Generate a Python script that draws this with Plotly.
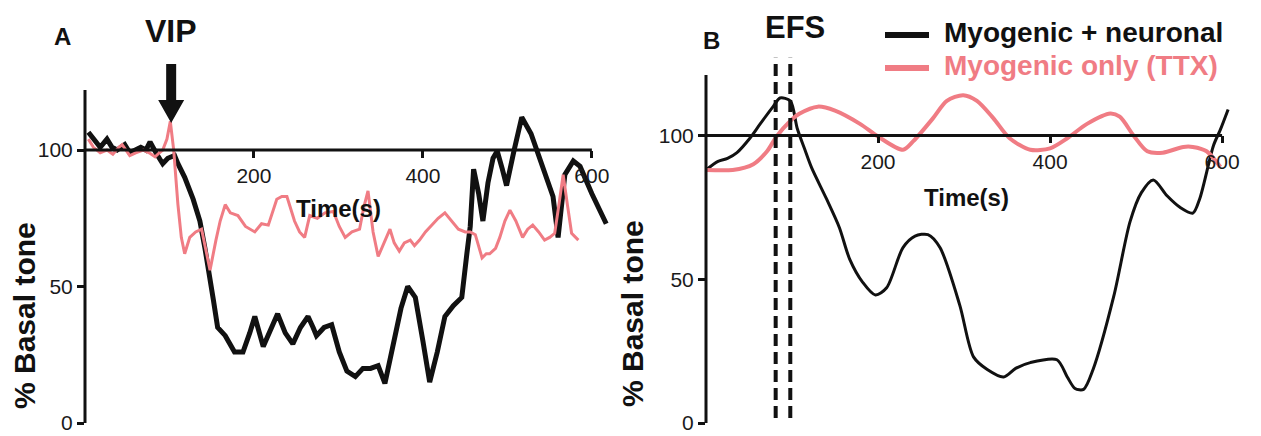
import plotly.graph_objects as go

# ---------------- data ----------------
# Panel A (VIP)
a_neuro_t = [4, 12, 18, 26, 32, 38, 47, 53, 59, 66, 72, 77, 84, 92, 98, 106, 110, 118, 128, 136, 142, 148,
             152, 157, 166, 177, 187, 195, 201, 211, 220, 228, 237, 246, 255, 264, 270, 274, 283, 292, 301,
             310, 320, 329, 338, 347, 355, 365, 374, 382, 391, 400, 408, 417, 426, 436, 446, 452, 456, 460,
             466, 471, 477, 483, 488, 494, 499, 508, 517, 528, 538, 546, 554, 560, 568, 578, 586, 600, 617]
a_neuro_v = [106.5, 103, 101, 104, 101, 100, 102, 99, 100, 101, 100, 103, 99, 95, 97, 98, 95, 90, 82, 74, 64, 54,
             45, 35, 32, 26, 26, 33, 39, 28, 35, 40, 33, 29, 35, 39, 35, 32, 35, 36, 26,
             19, 17, 20, 20, 21, 14.5, 30, 42, 50, 46, 30, 15, 26, 39, 43, 46, 62, 72, 93,
             84, 74, 88, 97, 99.6, 93, 87, 100, 112, 106, 97, 90, 83, 68, 91, 96, 94, 84, 73]

a_myo_t = [4, 10, 18, 26, 33, 40, 44, 49, 53, 60, 69, 76, 83, 88, 92, 97, 101, 105, 110, 114, 118, 124,
           131, 138, 143, 148, 155, 160, 166, 172, 181, 190, 201, 209, 217, 227, 233, 239, 248, 254, 260,
           266, 275, 284, 294, 301, 308, 316, 325, 330, 335, 341, 347, 354, 361, 366, 372, 378, 385, 390,
           396, 403, 410, 418, 426, 434, 442, 450, 456, 462, 470, 475, 479, 486, 491, 497, 503, 510, 518,
           524, 530, 537, 544, 550, 556, 561, 566, 571, 576, 584]
a_myo_v = [104, 101, 99, 100, 98.5, 101, 102, 100, 98, 99, 100, 99, 97.5, 99, 100, 104, 110.5, 100, 80, 68, 62, 68,
           70, 71, 64, 56, 67, 74, 80, 77, 76, 72, 70, 73, 72.5, 82, 83, 83, 74, 70, 68,
           76, 75, 77, 77.5, 72, 68, 70, 71, 79, 85, 70, 61, 66, 71, 66, 63, 66, 67, 65,
           67, 70, 72.5, 75, 77, 74, 71, 70, 70, 69, 60.5, 62, 62, 64, 68, 74, 78, 74, 68,
           71, 72.5, 70, 67, 68, 69.5, 80, 91, 80, 69.5, 67]

# Panel B (EFS)
b_neuro_t = [0, 14, 25, 36, 51, 63, 78, 86, 98, 106, 115, 123, 140, 155, 167, 182, 197, 210, 229, 243, 258,
             272, 295, 311, 327, 346, 360, 377, 408, 420, 429, 439, 450, 474, 493, 506, 520, 536, 551, 566,
             574, 590, 598, 607]
b_neuro_v = [88, 91, 92, 94, 99, 104, 110, 113, 112, 102.5, 95, 88.6, 78, 68, 57, 49, 44.5, 47, 61, 65, 65.5,
             61, 41, 23, 18.6, 16, 19, 21, 22, 16, 12, 11.7, 18.6, 44, 70, 80, 84.5, 79, 75, 73,
             78, 96.5, 102, 109]

b_myo_t = [0, 31, 55, 71, 82, 98, 109, 130, 150, 179, 200, 229, 241, 264, 280, 299, 315, 334, 353, 377,
           400, 420, 443, 470, 481, 497, 513, 531, 555, 566, 582, 598]
b_myo_v = [88, 88, 90, 94.5, 99.6, 105, 107.6, 110, 108.6, 104, 99.6, 95, 98, 106, 112, 114, 112, 106, 99, 95,
           95.5, 99, 104, 107.6, 106.5, 100, 94.5, 94, 96, 96, 94.5, 89]

efs_window = [81, 98]          # stimulation period (s)
vip_time = 102                 # VIP addition (s)
y_ticks = [0, 50, 100]
x_ticks = [200, 400, 600]
series_names = ["Myogenic + neuronal", "Myogenic only (TTX)"]
panel_labels = ["A", "B"]

# ---------------- styling / layout ----------------
W, H = 1261, 436
OFF = 8            # page body margin offset (px)
BLACK = "#111111"
PINK = "#F07C84"
FONT = "Liberation Sans, Arial, sans-serif"


def px(x):
    return (x - OFF) / W


def py(y):
    return 1 - (y - OFF) / H


# axis geometry (screen pixels)
A_dom_x = [px(85), px(613)]
A_dom_y = [py(423), py(90)]
A_xr = [0, 625]
A_yr = [0, 122]
B_dom_x = [px(706), px(1235)]
B_dom_y = [py(423), py(75)]
B_xr = [0, 615]
B_yr = [0, 121]


def mapx(t, dom, rng):
    return dom[0] + (t - rng[0]) / (rng[1] - rng[0]) * (dom[1] - dom[0])


def mapy(v, dom, rng):
    return dom[0] + (v - rng[0]) / (rng[1] - rng[0]) * (dom[1] - dom[0])


fig = go.Figure()
fig.add_trace(go.Scatter(x=a_neuro_t, y=a_neuro_v, mode="lines", name=series_names[0],
                         line=dict(color=BLACK, width=5), xaxis="x", yaxis="y", showlegend=False))
fig.add_trace(go.Scatter(x=a_myo_t, y=a_myo_v, mode="lines", name=series_names[1],
                         line=dict(color=PINK, width=3), xaxis="x", yaxis="y", showlegend=False))
fig.add_trace(go.Scatter(x=b_neuro_t, y=b_neuro_v, mode="lines", name=series_names[0],
                         line=dict(color=BLACK, width=3, shape="spline", smoothing=0.8),
                         xaxis="x2", yaxis="y2", showlegend=False))
fig.add_trace(go.Scatter(x=b_myo_t, y=b_myo_v, mode="lines", name=series_names[1],
                         line=dict(color=PINK, width=4, shape="spline", smoothing=0.8),
                         xaxis="x2", yaxis="y2", showlegend=False))

tickfont = dict(family=FONT, size=21, color="#1a1a1a")
common_x = dict(showgrid=False, zeroline=False, showline=False, ticks="outside", ticklen=7,
                tickwidth=2.5, tickcolor=BLACK, tickvals=x_ticks, tickfont=tickfont, anchor="free",
                ticklabeloverflow="allow", automargin=False)
common_y = dict(showgrid=False, zeroline=False, showline=False, ticks="outside", ticklen=7,
                tickwidth=2.5, tickcolor=BLACK, tickvals=y_ticks, tickfont=tickfont,
                ticklabeloverflow="allow", automargin=False)

fig.update_layout(
    width=W, height=H, margin=dict(l=0, r=0, t=0, b=0, autoexpand=False),
    paper_bgcolor="white", plot_bgcolor="rgba(0,0,0,0)",
    xaxis=dict(domain=A_dom_x, range=A_xr, position=mapy(100, A_dom_y, A_yr), **common_x),
    yaxis=dict(domain=A_dom_y, range=A_yr, anchor="x", **common_y),
    xaxis2=dict(domain=B_dom_x, range=B_xr, position=mapy(100, B_dom_y, B_yr), **common_x),
    yaxis2=dict(domain=B_dom_y, range=B_yr, anchor="x2", **common_y),
    font=dict(family=FONT, color=BLACK),
)

shapes = []
# axis lines (y axis and horizontal line at 100 %)
for dom_x, dom_y, xr, yr, ytop in [(A_dom_x, A_dom_y, A_xr, A_yr, 122), (B_dom_x, B_dom_y, B_xr, B_yr, 121)]:
    x0 = mapx(0, dom_x, xr)
    shapes.append(dict(type="line", xref="paper", yref="paper", x0=x0, x1=x0,
                       y0=mapy(0, dom_y, yr), y1=mapy(ytop, dom_y, yr), line=dict(color=BLACK, width=3)))
    shapes.append(dict(type="line", xref="paper", yref="paper", x0=x0, x1=mapx(600, dom_x, xr),
                       y0=mapy(100, dom_y, yr), y1=mapy(100, dom_y, yr), line=dict(color=BLACK, width=3)))
# EFS dashed lines
for t in efs_window:
    xx = mapx(t, B_dom_x, B_xr)
    shapes.append(dict(type="line", xref="paper", yref="paper", x0=xx, x1=xx,
                       y0=mapy(1.7, B_dom_y, B_yr), y1=mapy(127, B_dom_y, B_yr),
                       line=dict(color=BLACK, width=4, dash="12px,6px")))
# VIP arrow (filled polygon)
ax = mapx(vip_time, A_dom_x, A_xr)
pts = [(-5, 64), (5, 64), (5, 100), (13, 100), (0, 123), (-13, 100), (-5, 100)]
path = "M " + " L ".join(f"{ax + dx / W:.5f},{py(y):.5f}" for dx, y in pts) + " Z"
shapes.append(dict(type="path", xref="paper", yref="paper", path=path,
                   fillcolor=BLACK, line=dict(color=BLACK, width=0)))
# legend swatches
shapes.append(dict(type="line", xref="paper", yref="paper", x0=px(885), x1=px(929), y0=py(35), y1=py(35),
                   line=dict(color=BLACK, width=6)))
shapes.append(dict(type="line", xref="paper", yref="paper", x0=px(885), x1=px(929), y0=py(68), y1=py(68),
                   line=dict(color=PINK, width=6)))
fig.update_layout(shapes=shapes)

ann = []
bold = lambda s: f"<b>{s}</b>"
ann.append(dict(text=bold(panel_labels[0]), x=px(62), y=py(37), font=dict(size=24)))
ann.append(dict(text=bold(panel_labels[1]), x=px(711), y=py(40), font=dict(size=24)))
ann.append(dict(text=bold("VIP"), x=ax, y=py(31), font=dict(size=32)))
ann.append(dict(text=bold("EFS"), x=px(795), y=py(28), font=dict(size=31)))
ann.append(dict(text=bold("Time(s)"), x=px(338), y=py(208), font=dict(size=24)))
ann.append(dict(text=bold("Time(s)"), x=px(966), y=py(197), font=dict(size=24)))
ann.append(dict(text=bold("% Basal tone"), x=px(24), y=py(316), textangle=-90, font=dict(size=30)))
ann.append(dict(text=bold("% Basal tone"), x=px(632), y=py(314), textangle=-90, font=dict(size=30)))
ann.append(dict(text=bold(series_names[0]), x=px(942), y=py(32), xanchor="left", font=dict(size=28, color=BLACK)))
ann.append(dict(text=bold(series_names[1]), x=px(942), y=py(66), xanchor="left", font=dict(size=28, color=PINK)))
for a in ann:
    a.setdefault("xanchor", "center")
    a.update(xref="paper", yref="paper", yanchor="middle", showarrow=False)
    a["font"].setdefault("color", BLACK)
    a["font"]["family"] = FONT
fig.update_layout(annotations=ann)

fig.write_html("out.html")
